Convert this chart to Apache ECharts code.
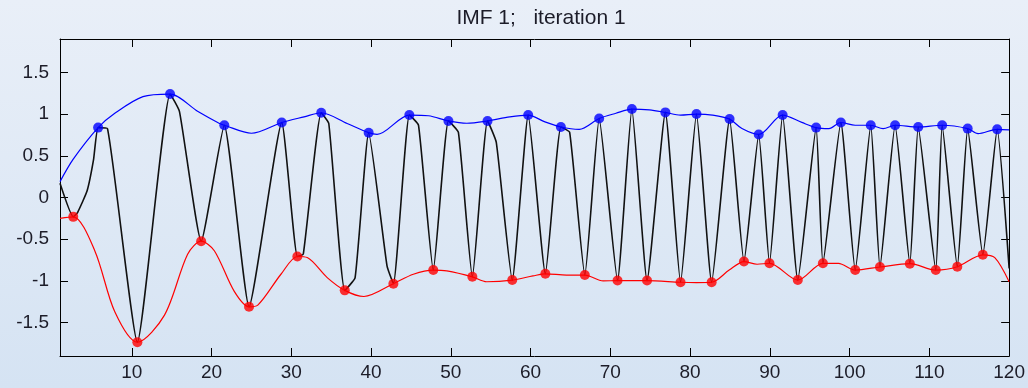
<!DOCTYPE html>
<html>
<head>
<meta charset="utf-8">
<script src="https://cdn.jsdelivr.net/npm/echarts@6/dist/echarts.min.js"></script>
<style>
  html, body { margin: 0; padding: 0; }
  #chart {
    width: 1028px;
    height: 388px;
    background: linear-gradient(to bottom, #e9eff8 0%, #d5e3f3 100%);
  }
</style>
</head>
<body>
<div id="chart"></div>
<script>
// signal (black)
const sigX = [1, 2.66, 3.2, 4.4, 5.2, 5.78, 6.95, 10.7, 14.8, 15.98, 18.7, 21.6, 24.7, 28.8, 30.76, 31.5,
  33.75, 34.7, 36.7, 38.0, 39.7, 42.0, 42.8, 44.8, 45.95, 47.8, 49.7, 50.95, 52.7, 54.6, 55.7, 57.7,
  59.7, 61.85, 63.8, 64.9, 66.8, 68.6, 70.9, 72.7, 74.6, 76.9, 78.8, 80.8, 82.7, 84.95, 86.75, 88.6,
  89.95, 91.6, 93.5, 95.8, 96.65, 98.9, 100.7, 102.65, 103.8, 105.7, 107.55, 108.6, 110.8, 111.6,
  113.5, 114.8, 116.7, 118.5, 120]
const sigY = [0.17, -0.232, -0.18, 0.08, 0.45, 0.838, 0.826, -1.735, 1.24, 1.03, -0.524, 0.866, -1.31, 0.899, -0.707, -0.68,
  1.016, 0.887, -1.113, -0.96, 0.777, -0.82, -1.033, 0.988, 0.866, -0.87, 0.918, 0.78, -0.951, 0.918, 0.66, -0.99,
  0.988, -0.915, 0.845, 0.78, -0.93, 0.947, -0.996, 1.06, -0.996, 1.02, -1.016, 1.0, -1.016, 0.94, -0.768, 0.756,
  -0.789, 0.988, -0.99, 0.838, -0.789, 0.899, -0.87, 0.866, -0.833, 0.866, -0.793, 0.845, -0.87, 0.866,
  -0.83, 0.826, -0.687, 0.817, -0.85]

// maxima (blue markers)
const maxX = [5.78, 14.8, 21.6, 28.8, 33.75, 39.7, 44.8, 49.7, 54.6, 59.7, 63.8, 68.6, 72.7, 76.9, 80.8,
  84.95, 88.6, 91.6, 95.8, 98.9, 102.65, 105.7, 108.6, 111.6, 114.8, 118.5]
const maxY = [0.838, 1.24, 0.866, 0.899, 1.016, 0.777, 0.988, 0.918, 0.918, 0.988, 0.845, 0.947, 1.06, 1.02, 1.0,
  0.94, 0.756, 0.988, 0.838, 0.899, 0.866, 0.866, 0.845, 0.866, 0.826, 0.817]

// minima (red markers)
const minX = [2.66, 10.7, 18.7, 24.7, 30.76, 36.7, 42.8, 47.8, 52.7, 57.7, 61.85, 66.8, 70.9, 74.6, 78.8,
  82.7, 86.75, 89.95, 93.5, 96.65, 100.7, 103.8, 107.55, 110.8, 113.5, 116.7]
const minY = [-0.232, -1.735, -0.524, -1.31, -0.707, -1.113, -1.033, -0.87, -0.951, -0.99, -0.915, -0.93, -0.996, -0.996, -1.016,
  -1.016, -0.768, -0.789, -0.99, -0.789, -0.87, -0.833, -0.793, -0.87, -0.83, -0.687]

// upper envelope (blue line)
const upX = [1, 2.66, 5.78, 7.87, 11.4, 14.8, 18.3, 21.0, 21.6, 25.0, 28.8, 31.6, 33.75, 37.0, 39.7, 40.75,
  44.8, 47.2, 49.7, 52.0, 54.6, 57.4, 59.7, 61.8, 63.8, 66.1, 68.6, 70.7, 72.7, 74.9, 76.9, 78.8, 80.8,
  82.8, 84.95, 86.5, 88.6, 91.6, 94.0, 95.8, 97.4, 98.9, 100.7, 102.65, 104.2, 105.7, 108.6, 111.6,
  114.8, 116.1, 118.5, 120]
const upY = [0.19, 0.46, 0.838, 1.01, 1.21, 1.24, 1.03, 0.887, 0.866, 0.77, 0.899, 0.967, 1.016, 0.887, 0.777, 0.756,
  0.988, 0.98, 0.918, 0.89, 0.918, 0.967, 0.988, 0.906, 0.845, 0.817, 0.947, 1.01, 1.06, 1.05, 1.02, 0.988, 1.0,
  0.988, 0.94, 0.826, 0.756, 0.988, 0.9, 0.838, 0.826, 0.899, 0.866, 0.866, 0.826, 0.866, 0.845, 0.866,
  0.826, 0.765, 0.817, 0.81]

// lower envelope (red line)
const loX = [1, 2.66, 5.37, 7.87, 10.7, 14.1, 17.0, 18.7, 20.35, 22.85, 24.7, 25.8, 28.7, 30.76, 32.0, 34.5,
  36.7, 39.1, 42.8, 45.3, 47.8, 49.5, 52.7, 54.5, 57.7, 60.3, 61.85, 64.5, 66.8, 69.1, 70.9, 74.6, 78.8,
  80.8, 82.7, 84.9, 86.75, 88.4, 89.95, 93.5, 96.65, 98.6, 100.7, 103.8, 107.55, 110.8, 113.5, 116.7,
  118.2, 120]
const loY = [-0.25, -0.232, -0.64, -1.37, -1.735, -1.41, -0.68, -0.524, -0.638, -1.126, -1.31, -1.29, -0.92, -0.707, -0.72, -0.96,
  -1.113, -1.187, -1.033, -0.92, -0.87, -0.88, -0.951, -1.01, -0.99, -0.94, -0.915, -0.93, -0.93, -1.0, -0.996, -0.996, -1.016,
  -1.02, -1.016, -0.87, -0.768, -0.8, -0.789, -0.99, -0.789, -0.79, -0.87, -0.833, -0.793, -0.87, -0.83, -0.687,
  -0.72, -1.01]

const titleText = 'IMF 1;   iteration 1'

const zip = (xs, ys) => xs.map((x, i) => [x, ys[i]])

const chart = echarts.init(document.getElementById('chart'))

const font = { fontFamily: 'Liberation Sans, Arial, sans-serif', fontSize: 19, color: '#1c1c28' }
const boxLine = { show: true, onZero: false, lineStyle: { color: '#000', width: 1 } }
const tick = { show: true, inside: true, length: 8, lineStyle: { color: '#000', width: 1 } }

chart.setOption({
  animation: false,
  backgroundColor: 'transparent',
  title: {
    text: titleText,
    left: 536,
    top: 3,
    textAlign: 'center',
    textStyle: { ...font, fontSize: 21, fontWeight: 'normal' }
  },
  grid: { left: 60, right: 15, top: 39, bottom: 32 },
  xAxis: [
    {
      type: 'value', min: 1, max: 120, splitNumber: 12,
      axisLine: boxLine, axisTick: tick, splitLine: { show: false },
      axisLabel: { ...font, margin: 7, showMinLabel: false }
    },
    {
      type: 'value', position: 'top', min: 1, max: 120, splitNumber: 12,
      axisLine: boxLine, axisTick: tick, splitLine: { show: false },
      axisLabel: { show: false }
    }
  ],
  yAxis: [
    {
      type: 'value', min: -1.9, max: 1.9, splitNumber: 8,
      axisLine: boxLine, axisTick: tick, splitLine: { show: false },
      axisLabel: { ...font, margin: 11, showMinLabel: false, showMaxLabel: false }
    },
    {
      type: 'value', position: 'right', min: -1.9, max: 1.9, splitNumber: 8,
      axisLine: boxLine, axisTick: tick, splitLine: { show: false },
      axisLabel: { show: false }
    }
  ],
  series: [
    {
      name: 'signal', type: 'line', data: zip(sigX, sigY), smooth: 0.15,
      showSymbol: false, lineStyle: { color: '#111', width: 1.6 }, z: 2
    },
    {
      name: 'upper', type: 'line', data: zip(upX, upY), smooth: 0.3,
      showSymbol: false, lineStyle: { color: '#0000ff', width: 1.2 }, z: 3
    },
    {
      name: 'lower', type: 'line', data: zip(loX, loY), smooth: 0.3,
      showSymbol: false, lineStyle: { color: '#ff0000', width: 1.2 }, z: 3
    },
    {
      name: 'maxima', type: 'scatter', data: zip(maxX, maxY),
      symbol: 'circle', symbolSize: 10, itemStyle: { color: '#0000ff' }, z: 4
    },
    {
      name: 'minima', type: 'scatter', data: zip(minX, minY),
      symbol: 'circle', symbolSize: 10, itemStyle: { color: '#ff0000' }, z: 4
    }
  ]
})
</script>
</body>
</html>
